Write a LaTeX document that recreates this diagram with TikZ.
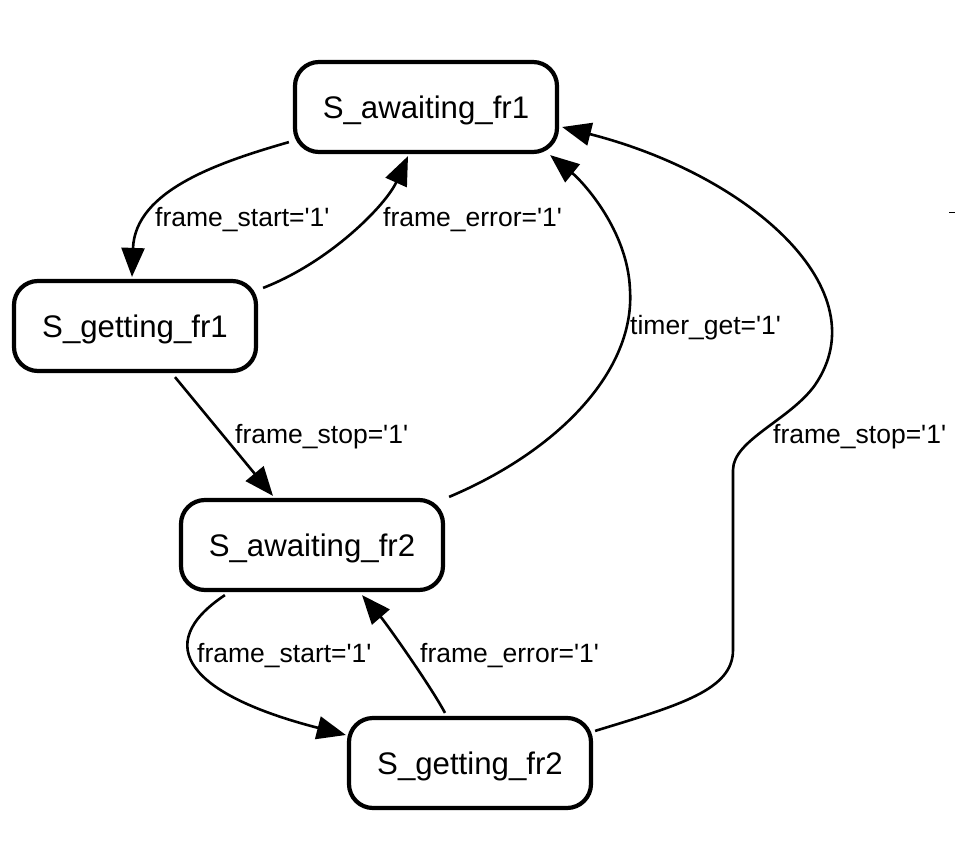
\documentclass[tikz,border=0pt]{standalone}
\usepackage{fontspec}
\setmainfont{Liberation Sans}
\usetikzlibrary{arrows.meta,calc}
\newcommand\guard[2]{#1\_#2=\textquotesingle1\textquotesingle}
\begin{document}
\begin{tikzpicture}[x=1pt,y=-1pt,
  state/.style={draw,line width=4.2pt,rounded corners=24pt,minimum height=90pt,
    inner sep=0pt,font=\fontsize{31.2}{36}\selectfont,text height=22.3pt,text depth=0pt},
  widestate/.style={state,minimum width=262pt},
  narrowstate/.style={state,minimum width=242pt},
  trans/.style={line width=2.6pt,-{Triangle[length=29pt,width=23pt]}},
  lbl/.style={anchor=base west,inner sep=0pt,font=\fontsize{26.5}{31}\selectfont}]
\useasboundingbox (0,0) rectangle (975,854);

% states
\node[widestate]  (a1) at (426,107) {S\_awaiting\_fr1};
\node[narrowstate] (g1) at (135,326) {S\_getting\_fr1};
\node[widestate]  (a2) at (312,545) {S\_awaiting\_fr2};
\node[narrowstate] (g2) at (470,763) {S\_getting\_fr2};

% transitions
\draw[trans] ($(a1.south west)+(-4,-12)$) .. controls (220,162) and (135,190) .. ($(g1.north)+(-3,-2)$);
\draw[trans] ($(g1.north east)+(5,9)$) .. controls (330,262) and (386,205) .. ($(a1.south)+(-18,2)$);
\draw[trans] ($(g1.south)+(40,4)$) -- ($(a2.north)+(-39,-2)$);
\draw[trans] ($(a2.north east)+(4,-1)$) .. controls (560,450) and (635,370) .. (630,290)
  .. controls (628,230) and (582,181) .. ($(a1.south east)+(-9,1)$);
\draw[trans] ($(g2.north east)+(2,15)$) .. controls (680,705) and (733,690) .. (733,650)
  -- (733,470) .. controls (733,440) and (790,420) .. (815,385)
  .. controls (880,290) and (750,175) .. ($(a1.east)+(3,20)$);
\draw[trans] ($(a2.south west)+(46,3)$) .. controls (150,645) and (190,695) .. ($(g2.west)+(-1,-28)$);
\draw[trans] ($(g2.north)+(-25,-3)$) .. controls (430,685) and (386,623) .. ($(a2.south)+(50,3)$);

% guards
\node[lbl] (l1) at (155,226) {\guard{frame}{start}};
\node[lbl] (l2) at (383,226) {\guard{frame}{error}};
\node[lbl] (l3) at (235,443) {\guard{frame}{stop}};
\node[lbl] (l4) at (630,334) {\guard{timer}{get}};
\node[lbl] (l5) at (773,443) {\guard{frame}{stop}};
\node[lbl] (l6) at (197,662) {\guard{frame}{start}};
\node[lbl] (l7) at (420,662) {\guard{frame}{error}};

% stray tick
\draw[line width=1.4pt] (949,212.5) -- (955,212.5);
\end{tikzpicture}
\end{document}
